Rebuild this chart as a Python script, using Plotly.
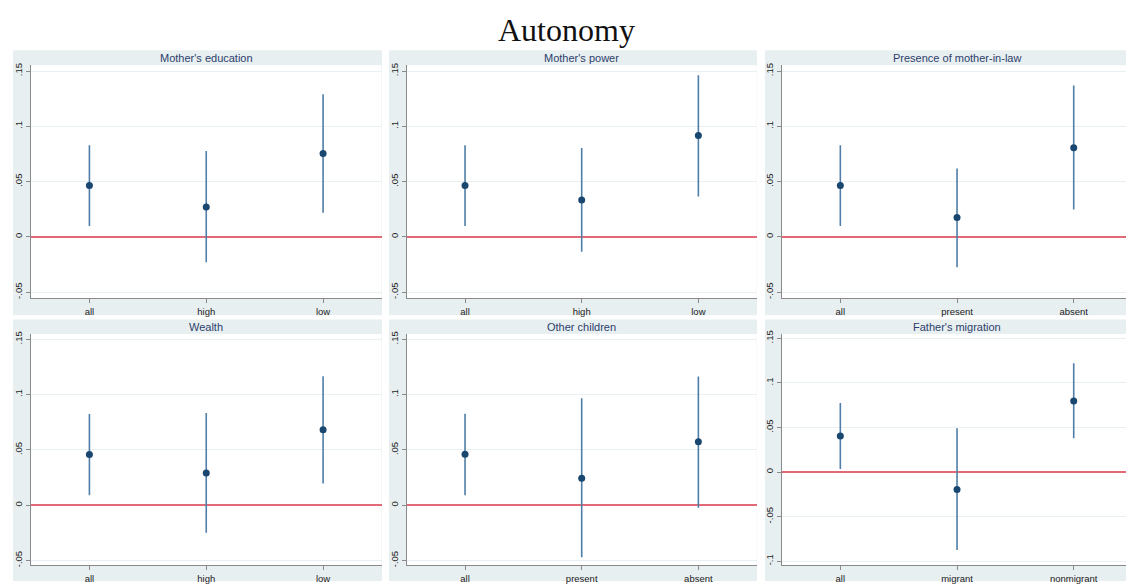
import plotly.graph_objects as go

W, H = 1126, 584

# ---------------- data ----------------
panel_titles = ["Mother's education", "Mother's power", "Presence of mother-in-law",
                "Wealth", "Other children", "Father's migration"]
panel_categories = [
    ["all", "high", "low"],
    ["all", "high", "low"],
    ["all", "present", "absent"],
    ["all", "high", "low"],
    ["all", "present", "absent"],
    ["all", "migrant", "nonmigrant"],
]
point_est = [
    [0.0464, 0.0271, 0.0753],
    [0.0464, 0.0333, 0.0917],
    [0.0464, 0.0176, 0.0807],
    [0.0458, 0.0291, 0.0681],
    [0.0460, 0.0244, 0.0574],
    [0.0404, -0.0197, 0.0797],
]
ci_upper = [
    [0.0828, 0.0777, 0.1289],
    [0.0828, 0.0804, 0.1462],
    [0.0828, 0.0619, 0.1369],
    [0.0824, 0.0833, 0.1166],
    [0.0826, 0.0967, 0.1163],
    [0.0775, 0.0490, 0.1220],
]
ci_lower = [
    [0.0098, -0.0229, 0.0217],
    [0.0098, -0.0134, 0.0366],
    [0.0098, -0.0274, 0.0247],
    [0.0089, -0.0250, 0.0196],
    [0.0090, -0.0470, -0.0024],
    [0.0033, -0.0875, 0.0378],
]
ytick_vals = [[-0.05, 0, 0.05, 0.1, 0.15]] * 5 + [[-0.1, -0.05, 0, 0.05, 0.1, 0.15]]
ytick_labels = {-0.1: "-.1", -0.05: "-.05", 0: "0", 0.05: ".05", 0.1: ".1", 0.15: ".15"}
y_ranges = [[-0.0555, 0.1552]] * 3 + [[-0.0545, 0.1547], [-0.0545, 0.1547], [-0.1048, 0.1548]]
main_title = "Autonomy"

# ---------------- layout geometry (pixels) ----------------
col_plot = [(31, 381.5), (406.7, 756.7), (782, 1126)]
row_plot = [(62, 297.8), (334, 568.3)]
col_outer = [(13, 382), (389, 757), (765, 1126)]
row_outer = [(46.7, 315), (319.3, 584)]
x_ranges = [[-0.5, 2.5], [-0.5, 2.5], [-0.5, 2.448]]

OUTER = "#e8eff1"
NAVY = "#1a476f"
BAR = "#4f7ea8"
AXIS = "#8a8a8a"

def px_x(v):
    return v / W

def px_y(v):
    return 1 - v / H

fig = go.Figure()
shapes = []
annotations = []

for i in range(6):
    r, c = divmod(i, 3)
    ax = "" if i == 0 else str(i + 1)
    xa, ya = "x" + ax, "y" + ax
    cats = panel_categories[i]
    xs = list(range(len(cats)))
    up = [u - p for u, p in zip(ci_upper[i], point_est[i])]
    dn = [p - l for p, l in zip(point_est[i], ci_lower[i])]
    fig.add_trace(go.Scatter(
        x=xs, y=point_est[i], mode="markers",
        marker=dict(color=NAVY, size=7),
        error_y=dict(type="data", symmetric=False, array=up, arrayminus=dn,
                     color=BAR, thickness=1.6, width=0),
        xaxis=xa, yaxis=ya, showlegend=False, hoverinfo="skip"))

    x0, x1 = col_plot[c]
    y0, y1 = row_plot[r]
    fig.layout["xaxis" + ax] = dict(
        domain=[px_x(x0), px_x(x1)], anchor=ya, range=x_ranges[c],
        tickvals=xs, ticktext=cats, showgrid=False, zeroline=False,
        showline=True, linecolor=AXIS, linewidth=1, ticks="outside",
        ticklen=4, tickcolor=AXIS, tickfont=dict(family="Arial", size=9.5, color="#222"),
        fixedrange=True)
    fig.layout["yaxis" + ax] = dict(
        domain=[px_y(y1), px_y(y0)], anchor=xa, range=y_ranges[i],
        tickvals=ytick_vals[i], ticktext=[ytick_labels[v] for v in ytick_vals[i]],
        tickangle=-90,
        showgrid=True, gridcolor="#e9f0f2", gridwidth=1,
        zeroline=True, zerolinecolor="#e26a77", zerolinewidth=1.5,
        showline=True, linecolor=AXIS, linewidth=1, ticks="outside",
        ticklen=4, tickcolor=AXIS, tickfont=dict(family="Arial", size=9.5, color="#222"),
        fixedrange=True)

    ox0, ox1 = col_outer[c]
    oy0, oy1 = row_outer[r]
    shapes.append(dict(type="rect", xref="paper", yref="paper", layer="below",
                       x0=px_x(ox0), x1=px_x(ox1), y0=px_y(oy1), y1=px_y(oy0),
                       fillcolor=OUTER, line=dict(width=0)))
    shapes.append(dict(type="rect", xref="paper", yref="paper", layer="below",
                       x0=px_x(x0), x1=px_x(x1), y0=px_y(y1), y1=px_y(y0),
                       fillcolor="white", line=dict(width=0)))
    annotations.append(dict(text=panel_titles[i], xref="paper", yref="paper",
                            x=px_x((x0 + x1) / 2 if c < 2 else (782 + 1132) / 2),
                            y=px_y((oy0 + y0) / 2 + 0.5),
                            xanchor="center", yanchor="middle", showarrow=False,
                            font=dict(family="Arial", size=11, color="#2c3e6b")))

annotations.append(dict(text=main_title, xref="paper", yref="paper",
                        x=px_x(566.5), y=px_y(26), xanchor="center", yanchor="middle",
                        showarrow=False,
                        font=dict(family="Liberation Serif", size=32, color="#111")))

fig.update_layout(width=W, height=H, margin=dict(l=0, r=0, t=0, b=0),
                  paper_bgcolor="white", plot_bgcolor="white",
                  shapes=shapes, annotations=annotations, showlegend=False)

fig.write_html("out.html", config={"displayModeBar": False},
               post_script="document.body.style.margin='0';")
